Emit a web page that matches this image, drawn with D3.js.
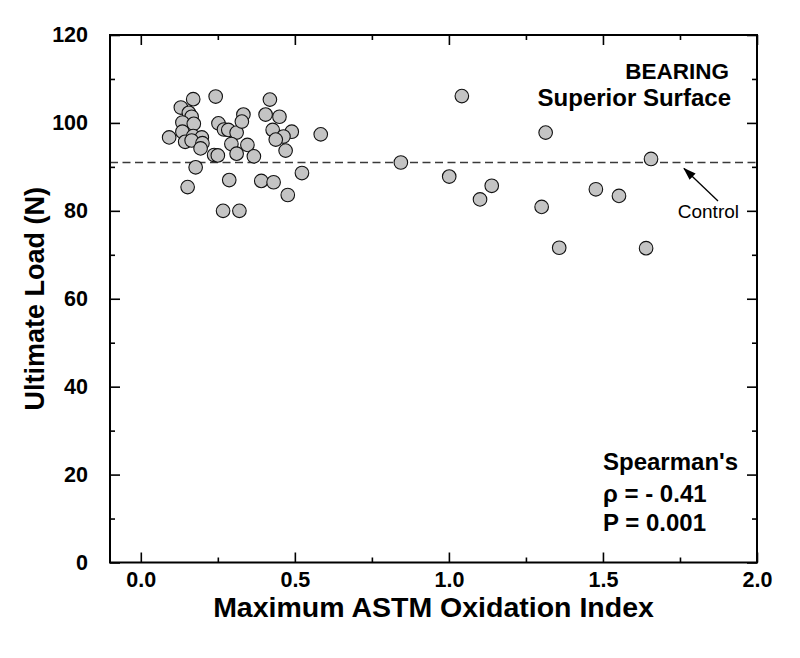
<!DOCTYPE html>
<html>
<head>
<meta charset="utf-8">
<script src="https://cdn.jsdelivr.net/npm/d3@7/dist/d3.min.js"></script>
<style>
  html, body { margin: 0; padding: 0; background: #fff; }
  svg { display: block; }
  text { font-family: "Liberation Sans", Arial, Helvetica, sans-serif; }
</style>
</head>
<body>
<svg id="chart" width="800" height="658"></svg>
<script>
// ---- data ----
const oxidationIndex = [
  0.092, 0.130, 0.170, 0.156, 0.165, 0.135, 0.172, 0.135, 0.144, 0.170,
  0.198, 0.165, 0.200, 0.194, 0.238, 0.250, 0.178, 0.152, 0.243, 0.252,
  0.270, 0.284, 0.311, 0.333, 0.328, 0.294, 0.311, 0.346, 0.287, 0.267,
  0.320, 0.367, 0.419, 0.405, 0.450, 0.428, 0.490, 0.463, 0.438, 0.470,
  0.523, 0.391, 0.431, 0.477, 0.584,
  0.844, 1.001, 1.042, 1.101, 1.139, 1.301, 1.314, 1.358, 1.477, 1.552,
  1.640, 1.656
];
const ultimateLoad = [
  96.7, 103.5, 105.4, 102.3, 101.4, 100.1, 99.8, 98.0, 95.7, 97.0,
  96.7, 96.0, 95.4, 94.2, 92.7, 92.6, 89.9, 85.4, 106.0, 99.9,
  98.5, 98.4, 97.8, 101.9, 100.3, 95.2, 93.0, 95.0, 87.0, 80.0,
  80.0, 92.4, 105.3, 101.9, 101.4, 98.4, 98.0, 96.9, 96.2, 93.7,
  88.6, 86.8, 86.5, 83.6, 97.4,
  91.0, 87.8, 106.1, 82.6, 85.7, 80.9, 97.8, 71.6, 84.9, 83.4,
  71.5, 91.8
];
const controlLoad = 91.0;
const xTicks = [0.0, 0.5, 1.0, 1.5, 2.0];
const xMinorTicks = [0.25, 0.75, 1.25, 1.75];
const yTicks = [0, 20, 40, 60, 80, 100, 120];
const yMinorTicks = [10, 30, 50, 70, 90, 110];
const titleLines = ["BEARING", "Superior Surface"];
const statLines = ["Spearman's", "\u03C1 = - 0.41", "P = 0.001"];
const xTitle = "Maximum ASTM Oxidation Index";
const yTitle = "Ultimate Load (N)";

// ---- layout ----
const L = 110, R = 757, T = 35, B = 562.5;
const svg = d3.select("#chart");
const x = d3.scaleLinear().domain([-0.1, 2.0]).range([L, R]);
const y = d3.scaleLinear().domain([0, 120]).range([B, T]);

const tickFont = "bold 21.5px 'Liberation Sans', Arial, sans-serif";

// control dashed line
svg.append("line")
  .attr("x1", L).attr("x2", R)
  .attr("y1", y(controlLoad)).attr("y2", y(controlLoad))
  .attr("stroke", "#3a3a3a").attr("stroke-width", 1.5)
  .attr("stroke-dasharray", "8,4.5");

// points
const pts = oxidationIndex.map((v, i) => ({ x: v, y: ultimateLoad[i] }));
svg.append("g").selectAll("circle").data(pts).join("circle")
  .attr("cx", d => x(d.x)).attr("cy", d => y(d.y)).attr("r", 6.8)
  .attr("fill", "#c4c4c4").attr("stroke", "#111").attr("stroke-width", 1.1);

// axes (ticks inward)
function styleAxis(g) {
  g.select(".domain").remove();
  g.selectAll(".tick line").attr("stroke", "#000").attr("stroke-width", 1.6);
  g.selectAll(".tick text").style("font", tickFont).attr("fill", "#000");
}
// bottom
svg.append("g").attr("transform", `translate(0,${B})`)
  .call(d3.axisBottom(x).tickValues(xTicks).tickSizeInner(-10).tickSizeOuter(0)
        .tickPadding(9).tickFormat(d3.format(".1f")))
  .call(styleAxis)
  .call(g => g.selectAll(".tick text").attr("y", 9).attr("dy", "0.71em"));
svg.append("g").attr("transform", `translate(0,${B})`)
  .call(d3.axisBottom(x).tickValues(xMinorTicks).tickSizeInner(-5).tickSizeOuter(0).tickFormat(""))
  .call(styleAxis);
// top
svg.append("g").attr("transform", `translate(0,${T})`)
  .call(d3.axisTop(x).tickValues(xTicks).tickSizeInner(-10).tickSizeOuter(0).tickFormat(""))
  .call(styleAxis);
svg.append("g").attr("transform", `translate(0,${T})`)
  .call(d3.axisTop(x).tickValues(xMinorTicks).tickSizeInner(-5).tickSizeOuter(0).tickFormat(""))
  .call(styleAxis);
// left
svg.append("g").attr("transform", `translate(${L},0)`)
  .call(d3.axisLeft(y).tickValues(yTicks).tickSizeInner(-10).tickSizeOuter(0).tickPadding(22))
  .call(styleAxis);
svg.append("g").attr("transform", `translate(${L},0)`)
  .call(d3.axisLeft(y).tickValues(yMinorTicks).tickSizeInner(-5).tickSizeOuter(0).tickFormat(""))
  .call(styleAxis);
// right
svg.append("g").attr("transform", `translate(${R},0)`)
  .call(d3.axisRight(y).tickValues(yTicks).tickSizeInner(-10).tickSizeOuter(0).tickFormat(""))
  .call(styleAxis);
svg.append("g").attr("transform", `translate(${R},0)`)
  .call(d3.axisRight(y).tickValues(yMinorTicks).tickSizeInner(-5).tickSizeOuter(0).tickFormat(""))
  .call(styleAxis);

// frame
svg.append("rect").attr("x", L).attr("y", T).attr("width", R - L).attr("height", B - T)
  .attr("fill", "none").attr("stroke", "#000").attr("stroke-width", 2);

// axis titles
svg.append("text").attr("x", (L + R) / 2).attr("y", 617)
  .attr("text-anchor", "middle").style("font", "bold 28.5px 'Liberation Sans', Arial, sans-serif")
  .text(xTitle);
svg.append("text").attr("transform", `translate(44,${(T + B) / 2}) rotate(-90)`)
  .attr("text-anchor", "middle").style("font", "bold 27px 'Liberation Sans', Arial, sans-serif")
  .text(yTitle);

// title block (top right)
svg.append("text").attr("x", 729).attr("y", 79).attr("text-anchor", "end")
  .style("font", "bold 22.5px 'Liberation Sans', Arial, sans-serif").text(titleLines[0]);
svg.append("text").attr("x", 731).attr("y", 106).attr("text-anchor", "end")
  .style("font", "bold 24px 'Liberation Sans', Arial, sans-serif").text(titleLines[1]);

// stats block (bottom right)
const statY = [470, 501.5, 530.5];
statLines.forEach((s, i) => {
  svg.append("text").attr("x", 603).attr("y", statY[i])
    .style("font", "bold 24px 'Liberation Sans', Arial, sans-serif").text(s);
});

// Control annotation with arrow
const defs = svg.append("defs");
defs.append("marker").attr("id", "ah").attr("viewBox", "0 0 12 10")
  .attr("refX", 11).attr("refY", 5).attr("markerWidth", 13).attr("markerHeight", 11)
  .attr("markerUnits", "userSpaceOnUse").attr("orient", "auto")
  .append("path").attr("d", "M0,1 L12,5 L0,9 Z").attr("fill", "#000");
svg.append("line")
  .attr("x1", 718).attr("y1", 201).attr("x2", 684).attr("y2", 168.5)
  .attr("stroke", "#000").attr("stroke-width", 1.3).attr("marker-end", "url(#ah)");
svg.append("text").attr("x", 739).attr("y", 217.5).attr("text-anchor", "end")
  .style("font", "19px 'Liberation Sans', Arial, sans-serif").text("Control");
</script>
</body>
</html>
